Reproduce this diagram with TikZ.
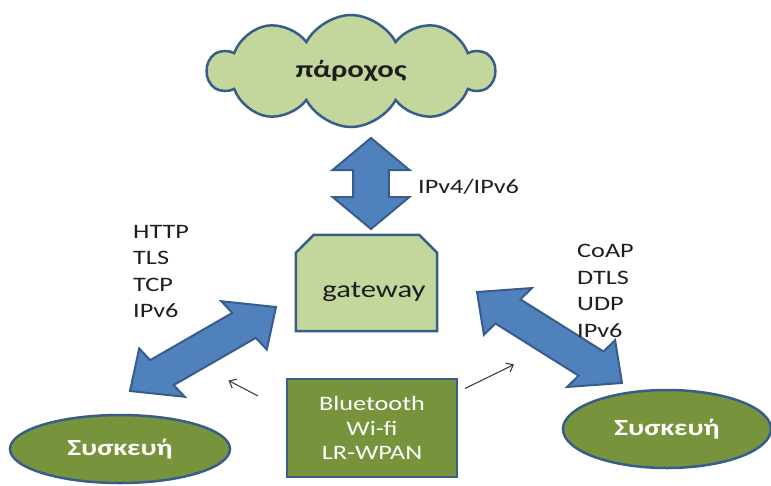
\documentclass[tikz,border=0pt]{standalone}
\usepackage{fontspec}
\newfontfamily\slidefont[FakeStretch=1.28]{Carlito}
\usetikzlibrary{shapes.symbols,shapes.misc,shapes.geometric,arrows.meta}

\definecolor{paleolive}{HTML}{C3D69B}
\definecolor{olive}{HTML}{77933C}
\definecolor{edgeblue}{HTML}{385D8A}
\definecolor{fillblue}{HTML}{4F81BD}
\definecolor{ink}{HTML}{1E1E1E}

% horizontal stretch of the whole slide
\newcommand\hstretch{1.28}

% thick two-headed block arrow between two named points;
% #3 shaft half width, #4 head half width, #5 head length (unstretched units)
\newdimen\baAx \newdimen\baAy \newdimen\baBx \newdimen\baBy
\newcommand\blockarrow[5]{%
  \pgfextractx{\baAx}{\pgfpointanchor{#1}{center}}%
  \pgfextracty{\baAy}{\pgfpointanchor{#1}{center}}%
  \pgfextractx{\baBx}{\pgfpointanchor{#2}{center}}%
  \pgfextracty{\baBy}{\pgfpointanchor{#2}{center}}%
  \pgfmathsetmacro\badx{(\baBx-\baAx)/\hstretch}%
  \pgfmathsetmacro\bady{\baBy-\baAy}%
  \pgfmathsetmacro\baang{atan2(\bady,\badx)}%
  \pgfmathsetmacro\balen{veclen(\badx,\bady)}%
  \pgfmathsetmacro\basx{\baAx/\hstretch}%
  \pgfmathsetmacro\basy{\baAy}%
  \begin{scope}[x=1pt,y=1pt,xscale=\hstretch,shift={(\basx,\basy)},rotate=\baang]
    \draw[blockarrow] (0,0) -- (#5,#4) -- (#5,#3) -- (\balen-#5,#3)
      -- (\balen-#5,#4) -- (\balen,0) -- (\balen-#5,-#4) -- (\balen-#5,-#3)
      -- (#5,-#3) -- (#5,-#4) -- cycle;
  \end{scope}%
}

\tikzset{
  blockarrow/.style={draw=edgeblue, fill=fillblue, line width=2pt},
  shapeedge/.style={draw=edgeblue, line width=2.5pt},
  label/.style={font=\slidefont\fontsize{20.5}{24}\selectfont, text=ink, inner sep=0pt, anchor=base west},
  thinarrow/.style={draw=ink!85, line width=1.1pt, -{Straight Barb[length=6pt,width=10pt]}},
}

\begin{document}
\begin{tikzpicture}[x=1pt,y=-1pt]
\useasboundingbox (0,0) rectangle (771,485);
\fill[white] (0,0) rectangle (771,485);

% provider cloud
\node[cloud, cloud ignores aspect, shapeedge, fill=paleolive, cloud puffs=10, cloud puff arc=125,
      minimum width=286pt, minimum height=112pt, inner sep=0pt,
      font=\slidefont\bfseries\fontsize{24}{28}\selectfont, text=ink]
  (provider) at (351,71) {πάροχος};

% gateway: box with cut top corners
\node[minimum width=141pt, minimum height=96pt, inner sep=0pt] (gateway) at (366.5,283) {};
\filldraw[shapeedge, fill=paleolive, line join=miter]
  (gateway.south west) -- ([yshift=-18pt]gateway.north west)
  -- ([xshift=18pt]gateway.north west) -- ([xshift=-18pt]gateway.north east)
  -- ([yshift=-18pt]gateway.north east) -- (gateway.south east) -- cycle;
\node[font=\slidefont\fontsize{24}{28}\selectfont, text=ink, inner sep=0pt, anchor=base]
  (gwlabel) at (374,297) {gateway};

% devices
\node[ellipse, shapeedge, fill=olive, minimum width=220pt, minimum height=68pt,
      font=\slidefont\bfseries\fontsize{23}{28}\selectfont, text=white]
  (devleft) at (120,449) {Συσκευή};
\node[ellipse, shapeedge, fill=olive, minimum width=208pt, minimum height=78pt,
      font=\slidefont\bfseries\fontsize{23}{28}\selectfont, text=white]
  (devright) at (667,429) {Συσκευή};

% local link technologies
\node[rectangle, shapeedge, fill=olive, minimum width=170pt, minimum height=98pt,
      align=center, font=\slidefont\fontsize{20.5}{24.5}\selectfont, text=white]
  (links) at (372,428) {Bluetooth\\Wi-fi\\LR-WPAN};

% block arrows
\coordinate (vtop) at (371,138);
\coordinate (vbot) at (371,229);
\coordinate (ltip) at (130,391);
\coordinate (lgw)  at (276,307);
\coordinate (rgw)  at (477,292);
\coordinate (rtip) at (622,383);
\blockarrow{vtop}{vbot}{14}{30}{32}
\blockarrow{ltip}{lgw}{15.5}{30}{31}
\blockarrow{rgw}{rtip}{15.5}{30}{31}

% protocol stacks
\node[label] (ipv4) at (418,193) {IPv4/IPv6};
\node[label] (http) at (133,238) {HTTP};
\node[label] (tls)  at (133,264.5) {TLS};
\node[label] (tcp)  at (133,291) {TCP};
\node[label] (ipl)  at (133,317) {IPv6};
\node[label] (coap) at (577,257.5) {CoAP};
\node[label] (dtls) at (577,284) {DTLS};
\node[label] (udp)  at (577,310.5) {UDP};
\node[label] (ipr)  at (577,337) {IPv6};

% small pointers from the link box
\coordinate (pl0) at (258,396);
\coordinate (pl1) at (228.5,380.5);
\coordinate (pr0) at (465,388.5);
\coordinate (pr1) at (514,364.5);
\draw[thinarrow] (pl0) -- (pl1);
\draw[thinarrow] (pr0) -- (pr1);
\end{tikzpicture}
\end{document}
